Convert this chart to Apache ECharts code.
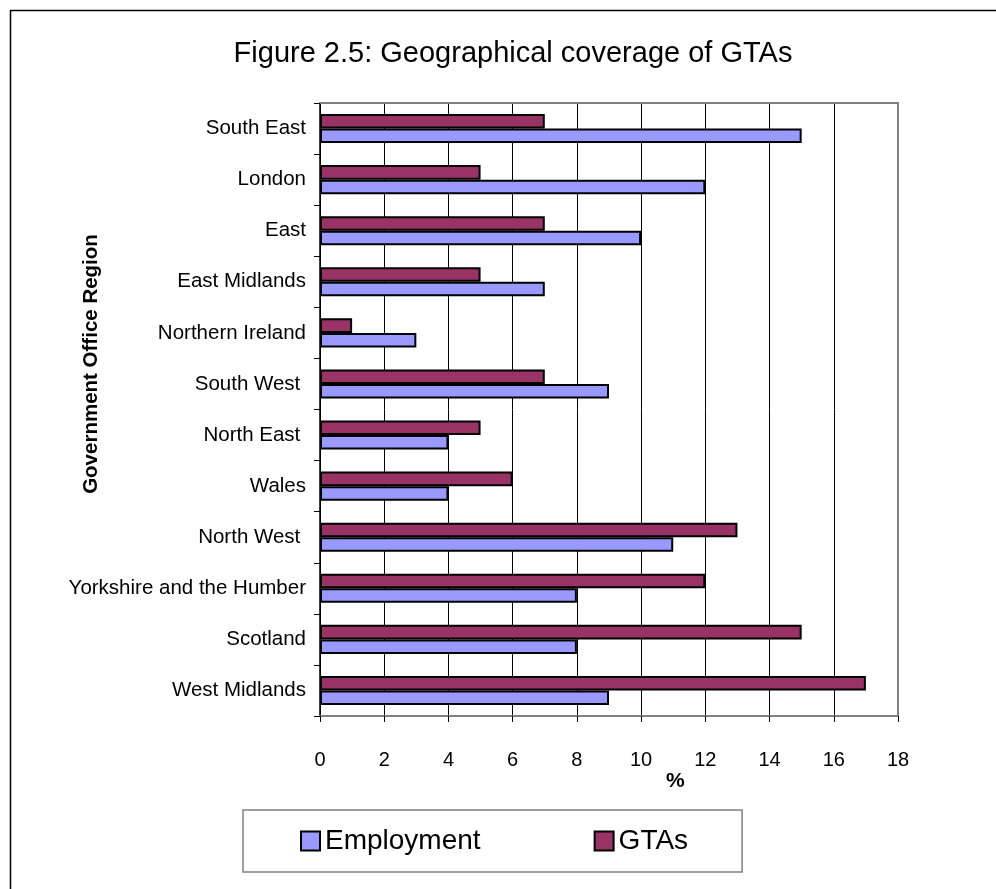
<!DOCTYPE html>
<html>
<head>
<meta charset="utf-8">
<script src="https://cdn.jsdelivr.net/npm/echarts@6/dist/echarts.min.js"></script>
<style>
  html, body { margin: 0; padding: 0; background: #fff; }
  #chart { width: 996px; height: 889px; }
</style>
</head>
<body>
<div id="chart"></div>
<script>
// Regions listed bottom to top (category axis runs upward)
const regions = [
  'West Midlands', 'Scotland', 'Yorkshire and the Humber', 'North West ',
  'Wales', 'North East ', 'South West ', 'Northern Ireland',
  'East Midlands', 'East', 'London', 'South East'
];
const employment = [9, 8, 8, 11, 4, 4, 9, 3, 7, 10, 12, 15];
const gtas = [17, 15, 12, 13, 6, 5, 7, 1, 5, 7, 5, 7];
const xTicks = [0, 2, 4, 6, 8, 10, 12, 14, 16, 18];

const FONT = '"Liberation Sans", Arial, sans-serif';
const chart = echarts.init(document.getElementById('chart'));

chart.setOption({
  animation: false,
  backgroundColor: '#fff',
  textStyle: { fontFamily: FONT, color: '#000' },
  title: {
    text: 'Figure 2.5: Geographical coverage of GTAs',
    left: 508, top: 34, textAlign: 'center',
    textStyle: { fontFamily: FONT, fontSize: 29, fontWeight: 'normal', color: '#000' }
  },
  legend: {
    data: ['Employment', 'GTAs'],
    left: 243, top: 810,
    padding: [17, 54, 17, 57],
    itemGap: 113,
    itemWidth: 19, itemHeight: 19,
    icon: 'rect',
    borderColor: '#808080', borderWidth: 1.5,
    textStyle: { fontFamily: FONT, fontSize: 28, color: '#000' }
  },
  grid: { left: 320, right: 98, top: 103, bottom: 173, containLabel: false },
  xAxis: {
    type: 'value', min: xTicks[0], max: xTicks[xTicks.length - 1], interval: 2,
    axisLine: { show: true, lineStyle: { color: '#808080', width: 2 } },
    axisTick: { show: true, length: 6, lineStyle: { color: '#000' } },
    axisLabel: { fontSize: 20, color: '#000', margin: 34, fontFamily: FONT },
    splitLine: { show: true, lineStyle: { color: '#000', width: 1 } }
  },
  yAxis: {
    type: 'category', data: regions,
    axisLine: { show: true, lineStyle: { color: '#000', width: 1.5 } },
    axisTick: { show: true, length: 6, alignWithLabel: false, lineStyle: { color: '#000' } },
    axisLabel: { fontSize: 20.5, color: '#000', margin: 14, fontFamily: FONT }
  },
  // GTAs listed first so its bar sits above Employment within each region
  series: [
    {
      name: 'GTAs', type: 'bar', data: gtas,
      barGap: '0%', barCategoryGap: '43%',
      itemStyle: { color: '#993366', borderColor: '#000', borderWidth: 2 }
    },
    {
      name: 'Employment', type: 'bar', data: employment,
      barGap: '0%', barCategoryGap: '43%',
      itemStyle: { color: '#9999FF', borderColor: '#000', borderWidth: 2 }
    }
  ]
});

// Outer frame, axis titles and the grey border along the top and right of the plot
const rect = chart.getModel().getComponent('grid').coordinateSystem.getRect();
chart.setOption({
  graphic: [
    { type: 'rect', left: 8, top: 8, z: -1,
      shape: { width: 1000, height: 900 },
      style: { fill: 'none', stroke: '#000', lineWidth: 1.5 } },
    { type: 'text', left: 666, top: 771,
      style: { text: '%', font: 'bold 21px ' + FONT, fill: '#000' } },
    { type: 'text', x: 91, y: 364, rotation: Math.PI / 2,
      style: { text: 'Government Office Region', font: 'bold 20.5px ' + FONT,
               fill: '#000', align: 'center', verticalAlign: 'middle' } },
    { type: 'polyline', z: 5,
      shape: { points: [[rect.x, rect.y], [rect.x + rect.width, rect.y], [rect.x + rect.width, rect.y + rect.height]] },
      style: { fill: 'none', stroke: '#808080', lineWidth: 2 } }
  ]
});
</script>
</body>
</html>
